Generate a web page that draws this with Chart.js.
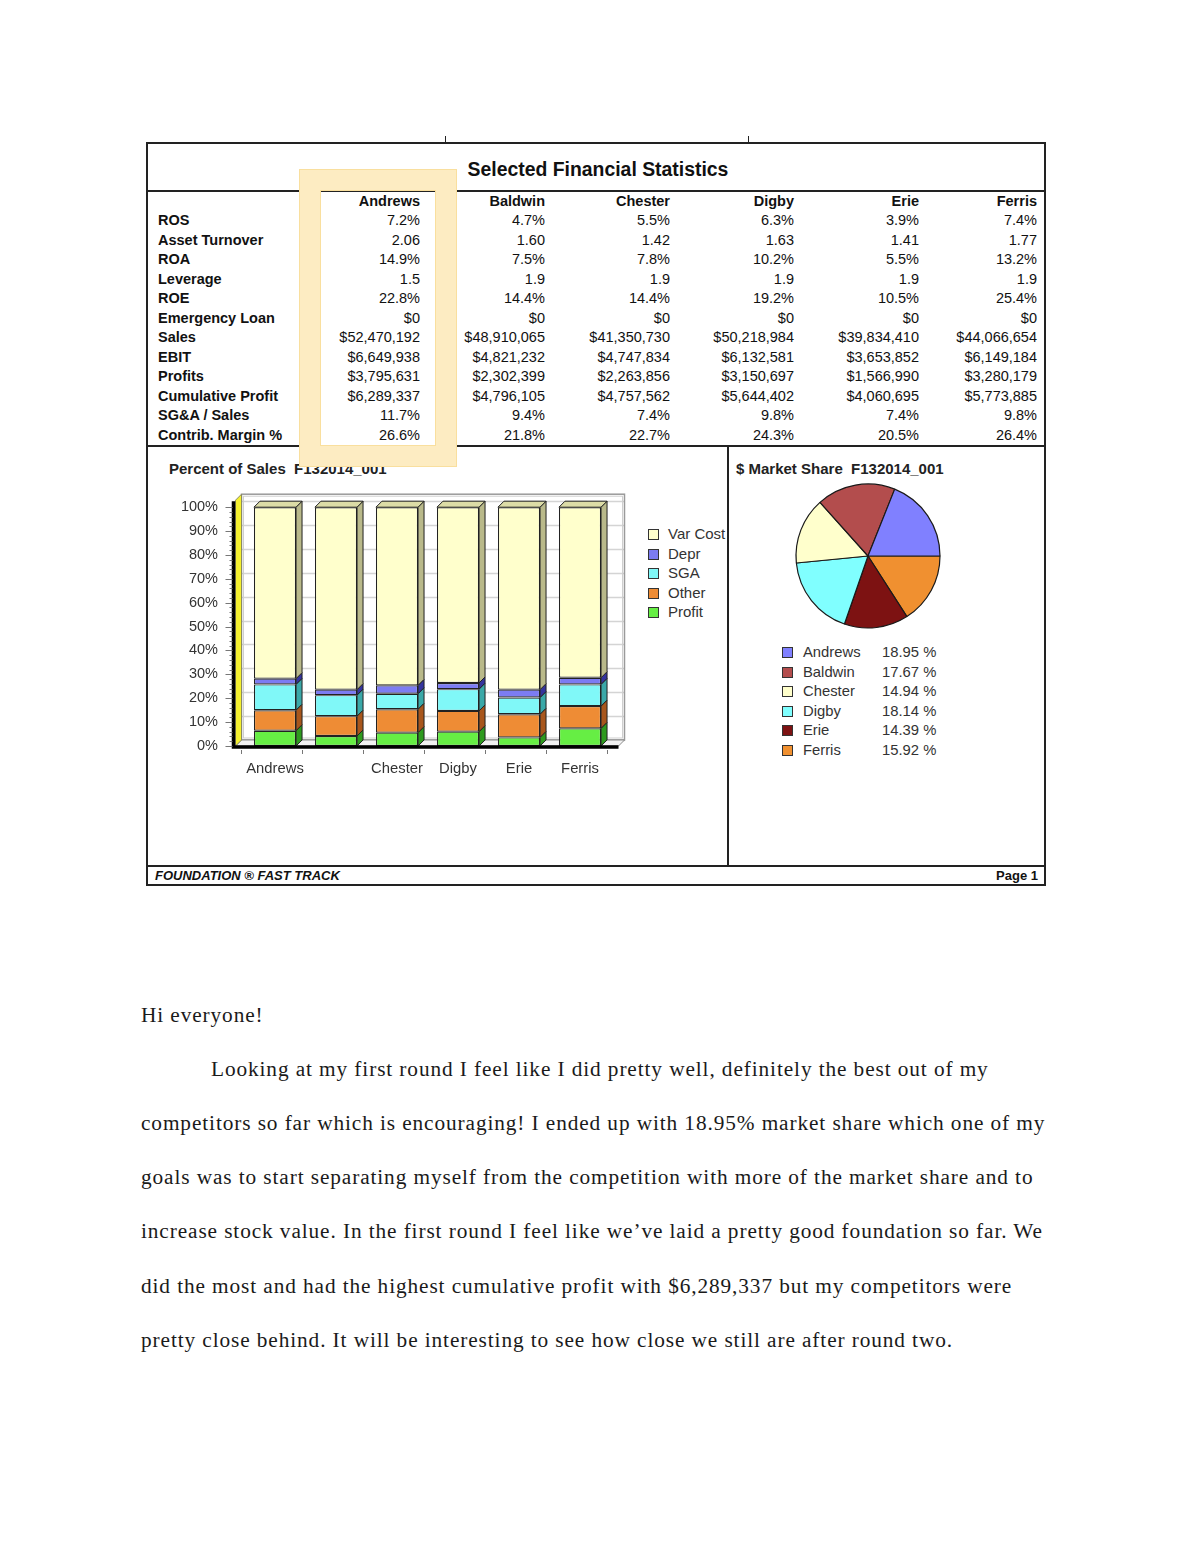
<!DOCTYPE html>
<html>
<head>
<meta charset="utf-8">
<script src="https://cdn.jsdelivr.net/npm/chart.js@4.4.1/dist/chart.umd.min.js"></script>
<style>
  html,body{margin:0;padding:0;background:#fff;}
  body{width:1200px;height:1553px;position:relative;overflow:hidden;font-family:"Liberation Sans",Arial,sans-serif;color:#111;}
  .abs{position:absolute;}
  .hl{background:#222;position:absolute;}
  .body{position:absolute;left:141px;font-family:"Liberation Serif","Times New Roman",serif;font-size:21.3px;letter-spacing:0.9px;line-height:30px;color:#1a1a1a;white-space:nowrap;}
  .leg{position:absolute;font-size:14.8px;line-height:18px;color:#333;white-space:nowrap;}
  .sq{position:absolute;width:9px;height:9px;border:1px solid #333;}
</style>
</head>
<body>
<div id="page"></div>
<div class="abs" style="left:160px;top:480px;width:470px;height:310px;"><canvas id="bar" width="470" height="310"></canvas></div>
<div class="abs" style="left:788px;top:476px;width:160px;height:160px;"><canvas id="pie" width="160" height="160"></canvas></div>
<div id="barLegend" class="abs" style="left:640px;top:520px;width:87px;height:110px;overflow:hidden;"></div>
<div id="pieLegend" class="abs" style="left:770px;top:640px;width:200px;height:130px;"></div>
<script>
// ---------------- DATA ----------------
const companies = ['Andrews','Baldwin','Chester','Digby','Erie','Ferris'];
const rowLabels = ['ROS','Asset Turnover','ROA','Leverage','ROE','Emergency Loan','Sales','EBIT','Profits','Cumulative Profit','SG&A / Sales','Contrib. Margin %'];
const rosRow      = ['7.2%','4.7%','5.5%','6.3%','3.9%','7.4%'];
const turnoverRow = ['2.06','1.60','1.42','1.63','1.41','1.77'];
const roaRow      = ['14.9%','7.5%','7.8%','10.2%','5.5%','13.2%'];
const leverageRow = ['1.5','1.9','1.9','1.9','1.9','1.9'];
const roeRow      = ['22.8%','14.4%','14.4%','19.2%','10.5%','25.4%'];
const loanRow     = ['$0','$0','$0','$0','$0','$0'];
const salesRow    = ['$52,470,192','$48,910,065','$41,350,730','$50,218,984','$39,834,410','$44,066,654'];
const ebitRow     = ['$6,649,938','$4,821,232','$4,747,834','$6,132,581','$3,653,852','$6,149,184'];
const profitsRow  = ['$3,795,631','$2,302,399','$2,263,856','$3,150,697','$1,566,990','$3,280,179'];
const cumProfRow  = ['$6,289,337','$4,796,105','$4,757,562','$5,644,402','$4,060,695','$5,773,885'];
const sgaSalesRow = ['11.7%','9.4%','7.4%','9.8%','7.4%','9.8%'];
const cmRow       = ['26.6%','21.8%','22.7%','24.3%','20.5%','26.4%'];

// Percent of Sales (stack from bottom)
const profitPct  = [6.4, 4.2, 5.6, 6.0, 3.6, 7.4];
const otherPct   = [8.6, 8.3, 9.8, 8.7, 9.7, 9.3];
const sgaPct     = [10.8, 8.8, 6.5, 9.1, 7.0, 9.1];
const deprPct    = [2.4, 2.3, 3.5, 2.6, 3.3, 2.8];
const varCostPct = [71.8, 76.4, 74.6, 73.6, 76.4, 71.4];
const yTicks = [0,10,20,30,40,50,60,70,80,90,100];

// $ Market Share
const shareLabels = ['Andrews','Baldwin','Chester','Digby','Erie','Ferris'];
const sharePct = [18.95, 17.67, 14.94, 18.14, 14.39, 15.92];

// ---------------- STYLE ----------------
const segColors = {Profit:'#66ee44', Other:'#ee8c35', SGA:'#80f8f8', Depr:'#7c7cf2', 'Var Cost':'#ffffcc'};
const segSide   = {Profit:'#2e9a1e', Other:'#a8561c', SGA:'#3aa8a8', Depr:'#34349e', 'Var Cost':'#b9b98a'};
const pieColors = ['#8080ff','#b34d4d','#ffffcc','#80ffff','#7d1212','#f09030'];

// ---------------- PAGE FRAME ----------------
const page = document.getElementById('page');
function line(x,y,w,h,c){const d=document.createElement('div');d.className='hl';d.style.left=x+'px';d.style.top=y+'px';d.style.width=w+'px';d.style.height=h+'px';if(c)d.style.background=c;page.appendChild(d);return d;}
function text(x,y,s,css){const d=document.createElement('div');d.className='abs';d.style.left=x+'px';d.style.top=y+'px';d.style.cssText+=css||'';d.textContent=s;page.appendChild(d);return d;}

line(146,142,900,2);            // top
line(146,142,2,744);            // left
line(1044,142,2,744);           // right
line(146,884,900,2);            // bottom
line(445,136,1,7); line(748,136,1,7);  // small ticks
line(146,190,900,1.5);          // under title
line(146,445,900,1.5);          // above charts
line(727,445,1.5,421);          // chart divider
line(146,865,900,1.5);          // footer top

text(0,158,'Selected Financial Statistics','width:1196px;text-align:center;font-weight:bold;font-size:19.4px;line-height:22px;color:#111;');

// table
const rows=[rosRow,turnoverRow,roaRow,leverageRow,roeRow,loanRow,salesRow,ebitRow,profitsRow,cumProfRow,sgaSalesRow,cmRow];
const colRight=[420,545,670,794,919,1037];
const TF='font-size:14.5px;line-height:18px;white-space:nowrap;';
companies.forEach((c,i)=>{text(colRight[i]-130,191.5,c,TF+'font-weight:bold;width:130px;text-align:right;');});
rows.forEach((r,ri)=>{
  const y=211+ri*19.53;
  text(158,y,rowLabels[ri],TF+'font-weight:bold;');
  r.forEach((v,ci)=>text(colRight[ci]-130,y,v,TF+'width:130px;text-align:right;'));
});

// chart titles
text(169,459,'Percent of Sales\u00a0\u00a0F132014_001','font-weight:bold;font-size:15px;line-height:19px;color:#222;white-space:nowrap;');
text(736,459,'$ Market Share\u00a0\u00a0F132014_001','font-weight:bold;font-size:15px;line-height:19px;color:#222;white-space:nowrap;');

// highlight frame (on top)
const hlf=document.createElement('div');
hlf.style.cssText='position:absolute;left:300px;top:170px;width:116px;height:256px;border:20px solid #fdecc2;box-shadow:0 0 0 1px #f9df9e, inset 0 0 0 1px #f9df9e;z-index:5;';
page.appendChild(hlf);

// footer
text(155,868,'FOUNDATION \u00ae FAST TRACK','font-weight:bold;font-style:italic;font-size:13px;line-height:16px;color:#111;white-space:nowrap;');
text(938,868,'Page 1','width:100px;text-align:right;font-weight:bold;font-size:13px;line-height:16px;color:#111;');

// body text
const bodyLines=[
 ['Hi everyone!',141],
 ['Looking at my first round I feel like I did pretty well, definitely the best out of my',211],
 ['competitors so far which is encouraging! I ended up with 18.95% market share which one of my',141],
 ['goals was to start separating myself from the competition with more of the market share and to',141],
 ['increase stock value. In the first round I feel like we\u2019ve laid a pretty good foundation so far. We',141],
 ['did the most and had the highest cumulative profit with $6,289,337 but my competitors were',141],
 ['pretty close behind. It will be interesting to see how close we still are after round two.',141]
];
bodyLines.forEach((l,i)=>{const d=document.createElement('div');d.className='body';d.style.left=l[1]+'px';d.style.top=(1000+i*54.1)+'px';d.textContent=l[0];page.appendChild(d);});

// ---------------- BAR CHART ----------------
const segNames=['Profit','Other','SGA','Depr','Var Cost'];
const segData=[profitPct,otherPct,sgaPct,deprPct,varCostPct];
const D=6;
const bar3d={
  id:'bar3d',
  beforeDatasetsDraw(chart){
    const {ctx,chartArea:a,scales:{y}}=chart;
    const L=a.left-3, R=a.right+14, B=y.getPixelForValue(0), T=y.getPixelForValue(100)-13;
    ctx.save();
    ctx.fillStyle='#ffffff';
    ctx.fillRect(L,T,R-L,B-D-T);
    ctx.strokeStyle='#d4d4d4';ctx.lineWidth=1.6;
    yTicks.forEach(v=>{const py=Math.round(y.getPixelForValue(v)-D)+0.5;ctx.beginPath();ctx.moveTo(L,py);ctx.lineTo(R,py);ctx.stroke();});
    ctx.strokeStyle='#9a9a9a';ctx.lineWidth=1.5;ctx.strokeRect(L,T,R-L,B-D-T);
    ctx.strokeStyle='#cfcfcf';ctx.lineWidth=1;ctx.strokeRect(L+2,T+2,R-L-4,B-D-T-4);
    ctx.beginPath();ctx.moveTo(L-D,B);ctx.lineTo(L,B-D);ctx.lineTo(R,B-D);ctx.lineTo(R-D,B);ctx.closePath();
    ctx.fillStyle='#f2f2f2';ctx.fill();ctx.strokeStyle='#8a8a8a';ctx.lineWidth=1;ctx.stroke();
    ctx.beginPath();ctx.moveTo(L-D,B);ctx.lineTo(L-D,T+D);ctx.lineTo(L,T);ctx.lineTo(L,B-D);ctx.closePath();
    ctx.fillStyle='#f4f030';ctx.fill();ctx.strokeStyle='#8a8a60';ctx.stroke();
    ctx.restore();
  },
  afterDatasetsDraw(chart){
    const {ctx,chartArea:a,scales:{y}}=chart;
    const L=a.left-3, R=a.right+14, B=y.getPixelForValue(0), T=y.getPixelForValue(100)-13;
    ctx.save();
    ctx.lineWidth=1;ctx.strokeStyle='#222';
    const n=chart.data.datasets.length;
    chart.data.datasets.forEach((ds,di)=>{
      const meta=chart.getDatasetMeta(di);
      meta.data.forEach(el=>{
        const p=el.getProps(['x','y','base','width'],true);
        const l=p.x-p.width/2, r=p.x+p.width/2;
        ctx.beginPath();ctx.moveTo(r,p.y);ctx.lineTo(r+D,p.y-D);ctx.lineTo(r+D,p.base-D);ctx.lineTo(r,p.base);ctx.closePath();
        ctx.fillStyle=segSide[ds.label];ctx.fill();ctx.stroke();
        if(di===n-1){
          ctx.beginPath();ctx.moveTo(l,p.y);ctx.lineTo(l+D,p.y-D);ctx.lineTo(r+D,p.y-D);ctx.lineTo(r,p.y);ctx.closePath();
          ctx.fillStyle='#dcdca6';ctx.fill();ctx.stroke();
        }
      });
    });
    ctx.strokeStyle='#000';ctx.lineWidth=3.5;
    ctx.beginPath();ctx.moveTo(L-D-2,T+D+1);ctx.lineTo(L-D-2,B+1);ctx.lineTo(R-D,B+1);ctx.stroke();
    ctx.strokeStyle='#777';ctx.lineWidth=1;
    for(let v=0;v<=100;v+=2){const py=Math.round(y.getPixelForValue(v))+0.5;ctx.beginPath();ctx.moveTo(L-D-(v%10===0?10:6),py);ctx.lineTo(L-D-3,py);ctx.stroke();}
    const xs=chart.scales.x;
    for(let i=0;i<=companies.length;i++){const px=Math.round(xs.left+(xs.right-xs.left)*i/companies.length)+0.5;ctx.beginPath();ctx.moveTo(px-4,B+4);ctx.lineTo(px-4,B+8);ctx.stroke();}
    ctx.restore();
  }
};

new Chart(document.getElementById('bar'),{
  type:'bar',
  data:{labels:companies,datasets:segNames.map((nm,i)=>({label:nm,data:segData[i],backgroundColor:segColors[nm],borderColor:'#222',borderWidth:1.2,borderSkipped:false,barPercentage:0.69,categoryPercentage:1}))},
  options:{
    responsive:false,animation:false,events:[],
    layout:{padding:{top:18,right:19.5,left:0,bottom:0}},
    plugins:{legend:{display:false},tooltip:{enabled:false}},
    scales:{
      x:{stacked:true,grid:{display:false},border:{display:false},
         ticks:{padding:6,color:'#333',font:{family:'Liberation Sans',size:14.8},maxRotation:0,autoSkip:false,
                callback:(v,i)=> i===1 ? '' : companies[i]},
         afterFit:s=>{s.height=44;}},
      y:{stacked:true,min:0,max:100,grid:{display:false},border:{display:false},
         afterBuildTicks:s=>{s.ticks=yTicks.map(v=>({value:v}));},
         ticks:{padding:18.5,color:'#333',font:{family:'Liberation Sans',size:14.5},callback:v=>v+'%'},
         afterFit:s=>{s.width=84.5;}}
    }
  },
  plugins:[bar3d]
});

// bar legend (top to bottom = reverse of stack)
const bl=document.getElementById('barLegend');
segNames.slice().reverse().forEach((nm,i)=>{
  const y=534+i*19.5-520;
  const s=document.createElement('div');s.className='sq';s.style.left='8px';s.style.top=(y-5)+'px';s.style.background=segColors[nm];bl.appendChild(s);
  const t=document.createElement('div');t.className='leg';t.style.fontSize='15px';t.style.left='28px';t.style.top=(y-9)+'px';t.textContent=nm;bl.appendChild(t);
});

// ---------------- PIE CHART ----------------
new Chart(document.getElementById('pie'),{
  type:'pie',
  data:{labels:shareLabels.slice().reverse(),datasets:[{data:sharePct.slice().reverse(),backgroundColor:pieColors.slice().reverse(),borderColor:'#1a1a1a',borderWidth:1.2,hoverOffset:0}]},
  options:{responsive:false,animation:false,events:[],rotation:90,radius:72,
    layout:{padding:0},plugins:{legend:{display:false},tooltip:{enabled:false}}}
});
const pl=document.getElementById('pieLegend');
shareLabels.forEach((nm,i)=>{
  const y=652+i*19.5-640;
  const s=document.createElement('div');s.className='sq';s.style.left='12px';s.style.top=(y-5)+'px';s.style.background=pieColors[i];pl.appendChild(s);
  const t=document.createElement('div');t.className='leg';t.style.left='33px';t.style.top=(y-9)+'px';t.textContent=nm;pl.appendChild(t);
  const p=document.createElement('div');p.className='leg';p.style.left='112px';p.style.top=(y-9)+'px';p.textContent=sharePct[i].toFixed(2)+' %';pl.appendChild(p);
});
</script>
</body>
</html>
